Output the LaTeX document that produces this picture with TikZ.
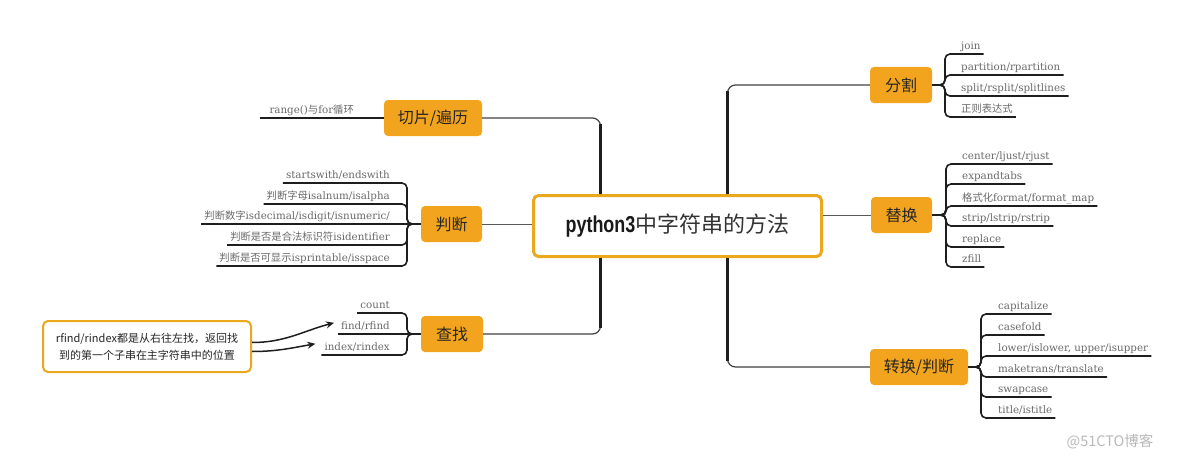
\documentclass[tikz,border=0pt]{standalone}
\usepackage{fontspec}
\setmainfont{DejaVu Serif}
\newfontfamily\cjk{Noto Sans CJK SC}
\newfontfamily\latsans{Liberation Sans}
\usetikzlibrary{arrows.meta,calc}
\definecolor{topicfill}{RGB}{243,164,30}
\definecolor{rootline}{RGB}{236,168,28}
\definecolor{leaftext}{RGB}{105,105,105}
\definecolor{linec}{RGB}{30,30,30}
\begin{document}
\begin{tikzpicture}[x=1pt,y=-1pt,
  topic/.style={fill=topicfill, rounded corners=4pt, minimum height=36pt, inner sep=0pt,
    font=\cjk\fontsize{16}{18}\selectfont, text=black!85},
  leafR/.style={anchor=south west, inner xsep=3pt, inner ysep=1.5pt, text height=8.5pt, text depth=2.5pt,
    font=\fontsize{10.3}{13}\selectfont, text=leaftext},
  leafL/.style={leafR, anchor=south east},
  branch/.style={draw=linec, line width=1.6pt, rounded corners=5pt},
  trunk/.style={draw=black!75, line width=1.2pt, rounded corners=8pt},
  trunkthick/.style={draw=linec, line width=2.6pt},
  hline/.style={draw=black!65, line width=1pt},
  arr/.style={draw=linec, line width=1.5pt, -{Stealth[length=8pt,width=7pt]}}]
\useasboundingbox (0,0) rectangle (1184,460);

% root
\node[draw=rootline, line width=3pt, fill=white, rounded corners=5pt,
  minimum width=288pt, minimum height=61pt, inner sep=0pt] (root) at (677.5,226)
  {\textcolor{black!90}{\scalebox{0.78}[1]{\latsans\bfseries\fontsize{23}{26}\selectfont python3}}\textcolor{black!80}{\cjk\fontsize{22}{26}\selectfont 中字符串的方法}};

% topics
\node[topic, minimum width=98pt] (qiepian) at (433,118) {切片/遍历};
\node[topic, minimum width=61pt] (panduan) at (451.5,224) {判断};
\node[topic, minimum width=62pt] (chazhao) at (452,334) {查找};
\node[topic, minimum width=62pt] (fenge) at (901,85) {分割};
\node[topic, minimum width=61pt] (tihuan) at (901.5,215) {替换};
\node[topic, minimum width=98pt] (zhuanhuan) at (919,367) {转换/判断};

% trunk connectors
\coordinate (lt) at ([xshift=68.5pt]root.north west);
\coordinate (lb) at ([xshift=68.5pt]root.south west);
\coordinate (rt) at ([xshift=195.5pt]root.north west);
\coordinate (rb) at ([xshift=195.5pt]root.south west);
\coordinate (c1) at (lt |- qiepian.east);
\coordinate (c2) at (lb |- chazhao.east);
\coordinate (c3) at (rt |- fenge.west);
\coordinate (c4) at (rb |- zhuanhuan.west);
\draw[trunk] (lt) |- (qiepian.east);
\draw[trunk] (lb) |- (chazhao.east);
\draw[trunk] (rt) |- (fenge.west);
\draw[trunk] (rb) |- (zhuanhuan.west);
\draw[trunkthick] (lt) -- ([yshift=-6pt]c1);
\draw[trunkthick] (lb) -- ([yshift=6pt]c2);
\draw[trunkthick] (rt) -- ([yshift=-6pt]c3);
\draw[trunkthick] (rb) -- ([yshift=6pt]c4);
\draw[hline] (root.west |- panduan.east) -- (panduan.east);
\draw[hline] (root.east |- tihuan.west) -- (tihuan.west);

% 分割 leaves
\node[leafR] (f1) at (958,54) {join};
\node[leafR] (f2) at (958,75) {partition/rpartition};
\node[leafR] (f3) at (958,96) {split/rsplit/splitlines};
\node[leafR] (f4) at (958,117) {{\cjk 正则表达式}};
\foreach \n/\y in {f1/54,f2/75,f3/96,f4/117}
  \draw[branch] (fenge.east) -- (945,85) -- (945,\y) -- (\n.south east);

% 替换 leaves
\node[leafR] (t1) at (959,164) {center/ljust/rjust};
\node[leafR] (t2) at (959,184) {expandtabs};
\node[leafR] (t3) at (959,206) {{\cjk 格式化}format/format\_map};
\node[leafR] (t4) at (959,226) {strip/lstrip/rstrip};
\node[leafR] (t5) at (959,247) {replace};
\node[leafR] (t6) at (959,267) {zfill};
\foreach \n/\y in {t1/164,t2/184,t3/206,t4/226,t5/247,t6/267}
  \draw[branch] (tihuan.east) -- (946,215) -- (946,\y) -- (\n.south east);

% 转换/判断 leaves
\node[leafR] (z1) at (995,314) {capitalize};
\node[leafR] (z2) at (995,335) {casefold};
\node[leafR] (z3) at (995,356) {lower/islower, upper/isupper};
\node[leafR] (z4) at (995,377) {maketrans/translate};
\node[leafR] (z5) at (995,397) {swapcase};
\node[leafR] (z6) at (995,418) {title/istitle};
\foreach \n/\y in {z1/314,z2/335,z3/356,z4/377,z5/397,z6/418}
  \draw[branch] (zhuanhuan.east) -- (981,367) -- (981,\y) -- (\n.south east);

% 切片/遍历 leaf
\node[leafL] (r1) at (357,118) {range(){\cjk 与}for{\cjk 循环}};
\draw[branch] (qiepian.west) -- ([xshift=-6pt]r1.south west);

% 判断 leaves
\node[leafL] (p1) at (393,183) {startswith/endswith};
\node[leafL] (p2) at (393,204) {{\cjk 判断字母}isalnum/isalpha};
\node[leafL] (p3) at (393,224) {{\cjk 判断数字}isdecimal/isdigit/isnumeric/};
\node[leafL] (p4) at (393,245) {{\cjk 判断是否是合法标识符}isidentifier};
\node[leafL] (p5) at (393,266) {{\cjk 判断是否可显示}isprintable/isspace};
\foreach \n/\y in {p1/183,p2/204,p4/245,p5/266}
  \draw[branch] (panduan.west) -- (407,224) -- (407,\y) -- (\n.south west);
\draw[branch] (panduan.west) -- (p3.south west);

% 查找 leaves
\node[leafL] (k1) at (393,313) {count};
\node[leafL] (k2) at (393,334) {find/rfind};
\node[leafL] (k3) at (393,355) {index/rindex};
\foreach \n/\y in {k1/313,k3/355}
  \draw[branch] (chazhao.west) -- (407,334) -- (407,\y) -- (\n.south west);
\draw[branch] (chazhao.west) -- (k2.south west);

% note
\node[draw=rootline, line width=2pt, fill=white, rounded corners=5pt,
  minimum width=208pt, minimum height=51pt, align=center,
  font=\cjk\fontsize{11}{17}\selectfont, text=black!85] (note) at (147,346.5)
  {rfind/rindex都是从右往左找，返回找\\到的第一个子串在主字符串中的位置};
\draw[arr] ([yshift=4pt]note.east) to[out=0,in=195] ([xshift=-4pt,yshift=4pt]k2.west);
\draw[arr] ([yshift=-5pt]note.east) to[out=0,in=190] ([xshift=-6pt,yshift=4pt]k3.west);

% watermark
\node[font=\cjk\fontsize{14.5}{16}\selectfont, text=black!28] (wm) at (1110,442) {@51CTO博客};
\end{tikzpicture}
\end{document}
